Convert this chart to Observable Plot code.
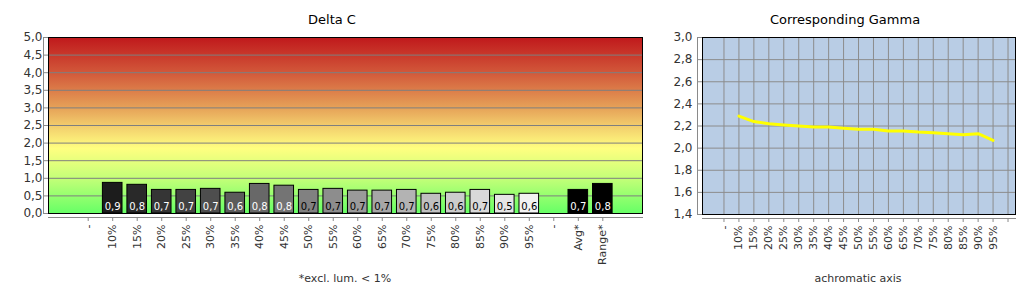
<!DOCTYPE html>
<html><head><meta charset="utf-8">
<script src="https://cdn.jsdelivr.net/npm/d3@7"></script>
<script src="https://cdn.jsdelivr.net/npm/@observablehq/plot@0.6"></script>
<style>
html,body{margin:0;padding:0;background:#fff;}
body{width:1036px;height:300px;position:relative;overflow:hidden;font-family:"DejaVu Sans",sans-serif;}
.t{position:absolute;font-size:13px;color:#000;text-align:center;white-space:nowrap;}
.c{position:absolute;font-size:11px;color:#333;text-align:center;white-space:nowrap;}
#left{position:absolute;left:0;top:0;}
#right{position:absolute;left:640px;top:0;}
</style></head><body>
<svg width="0" height="0" style="position:absolute">
  <defs>
    <linearGradient id="dcGrad" x1="0" y1="0" x2="0" y2="1">
      <stop offset="0" stop-color="#c0191c"/>
      <stop offset="0.2" stop-color="#d2583a"/>
      <stop offset="0.4" stop-color="#e6a258"/>
      <stop offset="0.5" stop-color="#f2cc6c"/>
      <stop offset="0.63" stop-color="#ffff80"/>
      <stop offset="0.8" stop-color="#c4ff78"/>
      <stop offset="1" stop-color="#66ff66"/>
    </linearGradient>
  </defs>
</svg>
<div class="t" style="left:232px;width:200px;top:12px">Delta C</div>
<div class="t" style="left:745px;width:200px;top:12px">Corresponding Gamma</div>
<div class="c" style="left:245px;width:200px;top:272px">*excl. lum. &lt; 1%</div>
<div class="c" style="left:758px;width:200px;top:272px">achromatic axis</div>
<div id="left"></div>
<div id="right"></div>
<script>
// ---------- Delta C data ----------
const deltaKeys = ["gapA","10%","15%","20%","25%","30%","35%","40%","45%","50%","55%","60%","65%","70%","75%","80%","85%","90%","95%","gapB","Avg*","Range*"];
const deltaTickLabels = ["-","10%","15%","20%","25%","30%","35%","40%","45%","50%","55%","60%","65%","70%","75%","80%","85%","90%","95%","-","Avg*","Range*"];
const deltaLevels = ["10%","15%","20%","25%","30%","35%","40%","45%","50%","55%","60%","65%","70%","75%","80%","85%","90%","95%"];
const deltaValues = [0.87,0.815,0.67,0.67,0.70,0.59,0.84,0.79,0.67,0.70,0.65,0.65,0.67,0.56,0.59,0.67,0.53,0.56];
const deltaLabels = ["0,9","0,8","0,7","0,7","0,7","0,6","0,8","0,8","0,7","0,7","0,7","0,7","0,7","0,6","0,6","0,7","0,5","0,6"];
const summaryKeys = ["Avg*","Range*"];
const summaryValues = [0.67,0.84];
const summaryLabels = ["0,7","0,8"];
const deltaYTicks = [0,0.5,1,1.5,2,2.5,3,3.5,4,4.5,5];

// ---------- Gamma data ----------
const gammaKeys = ["gap","10%","15%","20%","25%","30%","35%","40%","45%","50%","55%","60%","65%","70%","75%","80%","85%","90%","95%","end"];
const gammaTickLabels = ["-","10%","15%","20%","25%","30%","35%","40%","45%","50%","55%","60%","65%","70%","75%","80%","85%","90%","95%",""];
const gammaLevels = ["10%","15%","20%","25%","30%","35%","40%","45%","50%","55%","60%","65%","70%","75%","80%","85%","90%","95%"];
const gammaValues = [2.29,2.24,2.22,2.21,2.20,2.19,2.19,2.18,2.17,2.17,2.155,2.155,2.145,2.14,2.13,2.12,2.13,2.07];
const gammaYTicks = [1.4,1.6,1.8,2.0,2.2,2.4,2.6,2.8,3.0];

const fmt = d => d.toFixed(1).replace(".", ",");
const font = "DejaVu Sans, sans-serif";

// build tables
const grayScale = d3.scaleLinear().domain([0, deltaLevels.length - 1]).range(["#1c1c1c", "#f2f2f2"]);
const bars = deltaLevels.map((k, i) => ({key: k, value: deltaValues[i], label: deltaLabels[i], fill: grayScale(i)}))
  .concat(summaryKeys.map((k, i) => ({key: k, value: summaryValues[i], label: summaryLabels[i], fill: "#000"})));
bars.forEach(d => d.textFill = d3.lab(d.fill).l > 53 ? "#000" : "#fff");
const deltaTickMap = new Map(deltaKeys.map((k, i) => [k, deltaTickLabels[i]]));

const gamma = gammaLevels.map((k, i) => ({level: k, value: gammaValues[i]}));
const gammaTickMap = new Map(gammaKeys.map((k, i) => [k, gammaTickLabels[i]]));

// offset axis lines (layout helpers)
function axisLines(offset, color) {
  return (index, scales, values, dim) => {
    const g = d3.create("svg:g").attr("stroke", color).attr("stroke-width", 1);
    const x0 = dim.marginLeft, x1 = dim.width - dim.marginRight;
    const y0 = dim.marginTop, y1 = dim.height - dim.marginBottom;
    g.append("line").attr("x1", x0).attr("x2", x1 + 1).attr("y1", y1 + offset + 0.5).attr("y2", y1 + offset + 0.5);
    g.append("line").attr("x1", x0 - offset - 0.5).attr("x2", x0 - offset - 0.5).attr("y1", y0).attr("y2", y1 + 1);
    return g.node();
  };
}

const left = Plot.plot({
  width: 660, height: 270,
  marginLeft: 48, marginRight: 18, marginTop: 37, marginBottom: 57,
  style: {fontFamily: font, fontSize: "12px", color: "#333", background: "transparent", overflow: "visible"},
  x: {type: "band", domain: deltaKeys, paddingInner: 0.2, paddingOuter: 1.22, round: false, label: null},
  y: {domain: [0, 5], label: null},
  marks: [
    Plot.frame({fill: "url(#dcGrad)", stroke: null}),
    Plot.ruleY(deltaYTicks, {stroke: "#7f7f7f", strokeWidth: 1}),
    Plot.barY(bars, {x: "key", y: "value", fill: d => d.fill, stroke: "#000", strokeWidth: 1}),
    Plot.text(bars, {x: "key", y: 0, text: "label", fill: d => d.textFill, dy: -7, fontSize: 10, fontFamily: font}),
    Plot.frame({stroke: "#000", strokeWidth: 1}),
    axisLines(4, "#8a8a8a"),
    Plot.axisY({ticks: deltaYTicks, tickFormat: fmt, tickSize: 5, tickPadding: 1, stroke: "#8a8a8a", fill: "#333", fontSize: 12, label: null}),
    Plot.axisX({tickRotate: -90, tickFormat: k => deltaTickMap.get(k), tickSize: 4, tickPadding: 3, dy: 4, stroke: "#8a8a8a", fill: "#333", fontSize: 11, label: null})
  ]
});
document.getElementById("left").append(left);

const right = Plot.plot({
  width: 396, height: 270,
  marginLeft: 62, marginRight: 21, marginTop: 37, marginBottom: 56,
  style: {fontFamily: font, fontSize: "12px", color: "#333", background: "transparent", overflow: "visible"},
  x: {type: "point", domain: gammaKeys, padding: 0.5, insetLeft: 14, round: false, label: null},
  y: {domain: [1.4, 3.0], label: null},
  marks: [
    Plot.frame({fill: "#b9cde5", stroke: null}),
    Plot.ruleY(gammaYTicks, {stroke: "#8c8c8c", strokeWidth: 1}),
    Plot.ruleX(gammaKeys, {stroke: "#8c8c8c", strokeWidth: 1}),
    Plot.line(gamma, {x: "level", y: "value", stroke: "#ffff00", strokeWidth: 3}),
    Plot.frame({stroke: "#000", strokeWidth: 1}),
    axisLines(4, "#8a8a8a"),
    Plot.axisY({ticks: gammaYTicks, tickFormat: fmt, tickSize: 5, tickPadding: 5, stroke: "#8a8a8a", fill: "#333", fontSize: 12, label: null}),
    Plot.axisX({tickRotate: -90, tickFormat: k => gammaTickMap.get(k), tickSize: 4, tickPadding: 3, dy: 4, stroke: "#8a8a8a", fill: "#333", fontSize: 11, label: null})
  ]
});
document.getElementById("right").append(right);
</script>
</body></html>
